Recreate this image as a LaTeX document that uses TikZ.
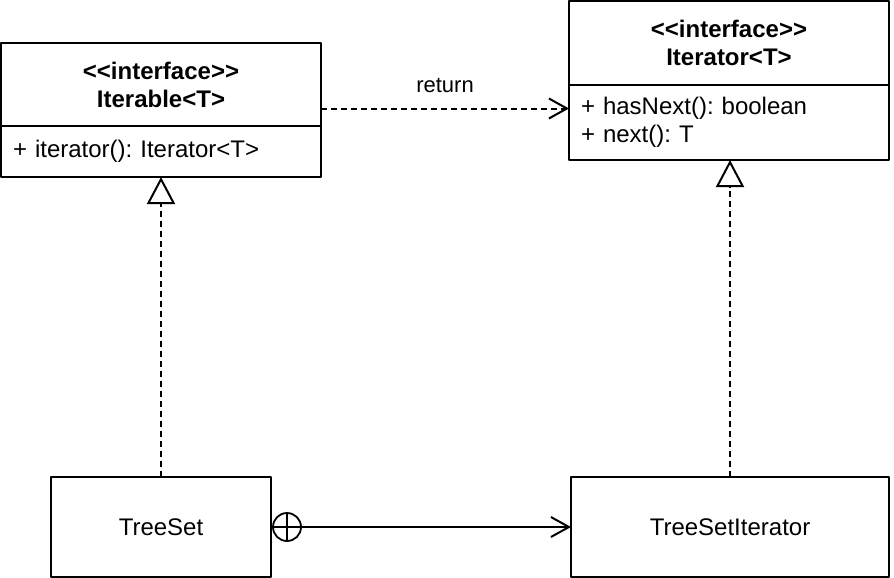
\documentclass[tikz,border=0pt]{standalone}
\usepackage{fontspec}
\setmainfont{Liberation Sans}
\usetikzlibrary{arrows.meta}
\newcommand{\ltlt}{<\kern0pt<}
\newcommand{\gtgt}{>\kern0pt>}

\begin{document}
\frenchspacing
\begin{tikzpicture}[line cap=round,line join=round,>={Straight Barb[length=9pt,width=10pt]},x=0.5pt,y=-0.5pt,
  every node/.style={font=\fontsize{12}{14}\selectfont},
  box/.style={draw,line width=1pt,rectangle,inner sep=0pt,outer sep=0pt,align=center},
  members/.style={box,text width=148pt,inner xsep=6pt,align=left,anchor=north},
  dep/.style={line width=1pt,line cap=butt,dash pattern=on 3pt off 2pt},
  real/.style={dep,-{Triangle[open,length=13.5pt,width=14pt,line cap=round]}},
  nest/.style={draw,circle,line width=0.9pt,minimum size=14pt,inner sep=0pt,outer sep=0pt,
    path picture={\draw[line width=0.9pt] (path picture bounding box.north) -- (path picture bounding box.south)
      (path picture bounding box.west) -- (path picture bounding box.east);}}]
\useasboundingbox (0,0) rectangle (894,578);

%rajapinnat
\node[box,minimum width=160pt,minimum height=41.5pt] (iterablehead) at (161,84.5)
  {\textbf{\ltlt interface\gtgt}\\\textbf{Iterable<T>}};
\node[members,minimum width=160pt,minimum height=25.5pt] (iterablebody) at (iterablehead.south)
  {+ iterator(): Iterator<T>};
\node[box,minimum width=160pt,minimum height=42pt] (iteratorhead) at (729,43)
  {\textbf{\ltlt interface\gtgt}\\\textbf{Iterator<T>}};
\node[members,minimum width=160pt,minimum height=37.5pt] (iteratorbody) at (iteratorhead.south)
  {+ hasNext(): boolean\\+ next(): T};

%luokat
\node[box,minimum width=110pt,minimum height=50pt] (treeset) at (161,527) {TreeSet};
\node[box,minimum width=159pt,minimum height=50pt] (tsiter) at (730,527) {TreeSetIterator};
\node[nest] (nestc) at ([xshift=8pt]treeset.east) {};

%yhteydet
\draw[dep,->] ([yshift=-12pt]iterablehead.east) -- ([yshift=-12pt]iterablehead.east -| iteratorbody.west)
  node[midway,above=4pt,font=\fontsize{11}{13}\selectfont] (ret) {return};
\draw[real] (treeset.north) -- (iterablebody.south);
\draw[real] (tsiter.north) -- (tsiter.north |- iteratorbody.south);
\draw[line width=1pt,->] (nestc.east) -- (tsiter.west);
\end{tikzpicture}
\end{document}
